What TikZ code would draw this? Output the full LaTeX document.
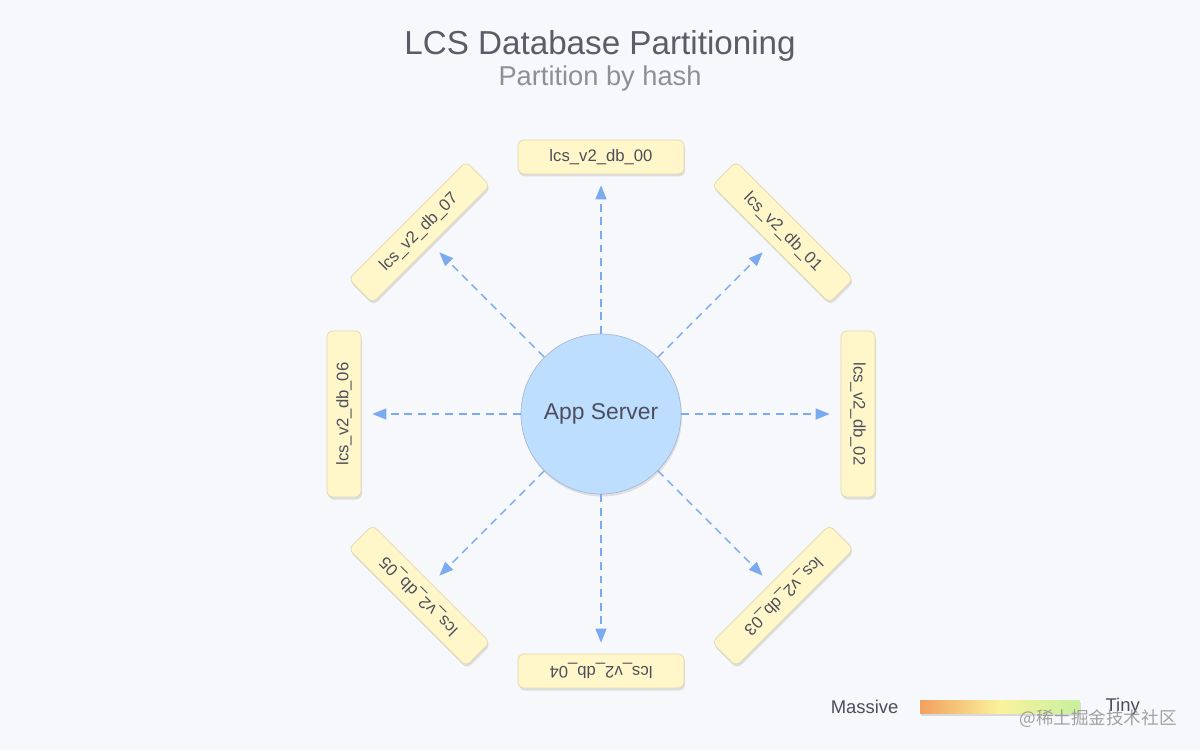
\documentclass[tikz,border=0pt]{standalone}
\usepackage{fontspec}
\setmainfont{Liberation Sans}
\newfontfamily\cjkfont{Noto Sans CJK SC}
\usetikzlibrary{arrows.meta,calc,positioning,shadows}

\definecolor{bgcol}{HTML}{F7F8FC}
\definecolor{titlecol}{HTML}{5C5C66}
\definecolor{subcol}{HTML}{8E8E96}
\definecolor{boxfill}{HTML}{FFF7CA}
\definecolor{boxdraw}{HTML}{E0D8AC}
\definecolor{circfill}{HTML}{BDDEFF}
\definecolor{circdraw}{HTML}{A9B9CC}
\definecolor{linkcol}{HTML}{7AAAF0}
\definecolor{labelcol}{HTML}{4E4E5A}
\definecolor{hotcol}{HTML}{F2A05E}
\definecolor{midcol}{HTML}{FAF29C}
\definecolor{coldcol}{HTML}{C6F0A0}

\pgfdeclarehorizontalshading{heatbar}{100bp}{color(0bp)=(hotcol); color(25bp)=(hotcol); color(50bp)=(midcol); color(75bp)=(coldcol); color(100bp)=(coldcol)}

\begin{document}
\begin{tikzpicture}[
    every node/.style={text=labelcol, align=center},
    db/.style={rounded corners=0.12cm, draw=boxdraw, fill=boxfill, line width=0.4pt,
        minimum width=3.32cm, minimum height=0.68cm, font=\fontsize{9.5}{11}\selectfont,
        drop shadow={opacity=0.22, shadow xshift=0.02cm, shadow yshift=-0.05cm}},
    server/.style={circle, draw=circdraw, fill=circfill, line width=0.4pt,
        minimum size=3.2cm, inner sep=0pt, font=\fontsize{13}{15}\selectfont,
        drop shadow={opacity=0.2, shadow xshift=0.02cm, shadow yshift=-0.05cm}},
    link/.style={draw=linkcol, line width=0.8pt, dash pattern=on 4.5pt off 3.2pt,
        -{Triangle[length=0.28cm, width=0.22cm]}, shorten >=0.22cm}
]
\useasboundingbox[fill=bgcol] (0,0) rectangle (24,15);

% --- Title ---
\node[text=titlecol, font=\fontsize{18.9}{21}\selectfont] (title) at (12,14.08) {LCS Database Partitioning};
\node[text=subcol, font=\fontsize{15.5}{17}\selectfont] (subtitle) at (12,13.44) {Partition by hash};

% --- Server ---
\node[server] (app) at (12.02,6.72) {App Server};

% --- Databases ---
\node[db] (db00) at ($(app)+(90:5.14)$) {lcs\_v2\_db\_00};
\node[db, rotate=-45] (db01) at ($(app)+(45:5.14)$) {lcs\_v2\_db\_01};
\node[db, rotate=-90] (db02) at ($(app)+(0:5.14)$) {lcs\_v2\_db\_02};
\node[db, rotate=-135] (db03) at ($(app)+(-45:5.14)$) {lcs\_v2\_db\_03};
\node[db, rotate=180] (db04) at ($(app)+(-90:5.14)$) {lcs\_v2\_db\_04};
\node[db, rotate=135] (db05) at ($(app)+(-135:5.14)$) {lcs\_v2\_db\_05};
\node[db, rotate=90] (db06) at ($(app)+(180:5.14)$) {lcs\_v2\_db\_06};
\node[db, rotate=45] (db07) at ($(app)+(135:5.14)$) {lcs\_v2\_db\_07};

% --- Arrows ---
\draw[link] (app) -- (db00);
\draw[link] (app) -- (db01);
\draw[link] (app) -- (db02);
\draw[link] (app) -- (db03);
\draw[link] (app) -- (db04);
\draw[link] (app) -- (db05);
\draw[link] (app) -- (db06);
\draw[link] (app) -- (db07);

% --- Legend ---
\node[shading=heatbar, minimum width=3.2cm, minimum height=0.26cm, inner sep=0pt,
    drop shadow={opacity=0.25, shadow xshift=0.02cm, shadow yshift=-0.05cm}] (bar) at (20,0.86) {};
\node[font=\fontsize{10.5}{12}\selectfont, left=0.3cm of bar] (massive) {Massive};
\node[font=\fontsize{10.5}{12}\selectfont, right=0.38cm of bar] (tiny) {Tiny};

% --- Watermark ---
\node[text=black!45, opacity=0.8, font=\cjkfont\fontsize{10}{12}\selectfont] (mark) at (21.96,0.62) {@稀土掘金技术社区};

\end{tikzpicture}
\end{document}
